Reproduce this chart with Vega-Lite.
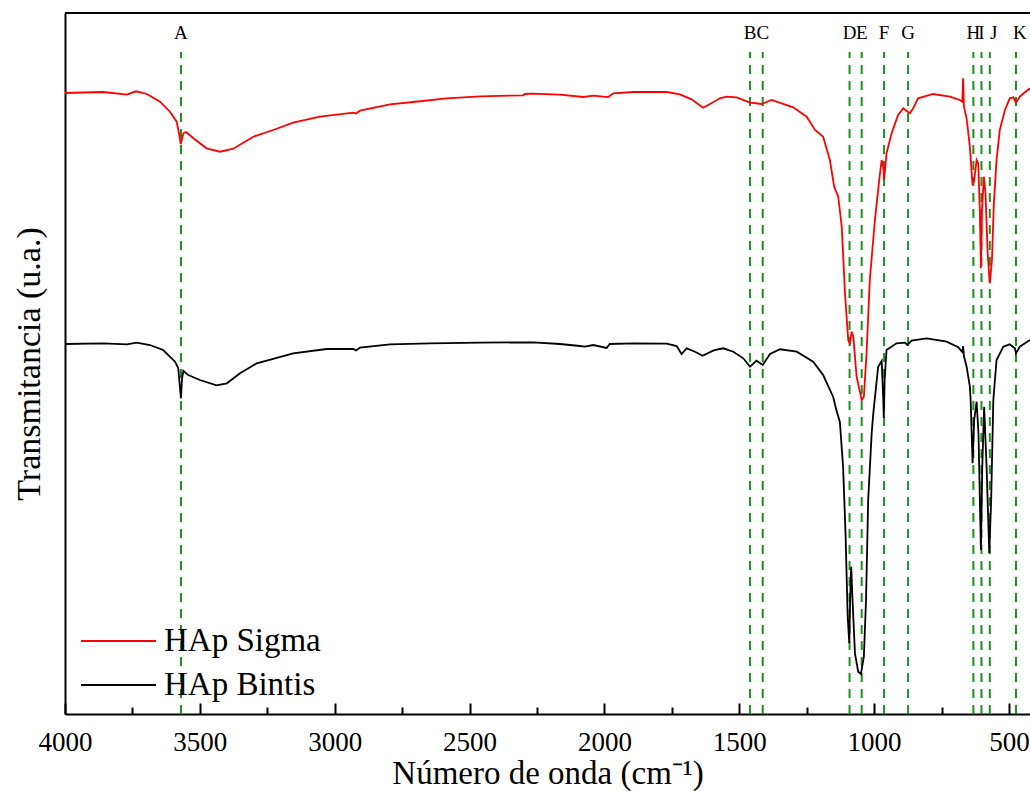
{
  "$schema": "https://vega.github.io/schema/vega-lite/v6.json",
  "width": 965,
  "height": 701,
  "autosize": {"type": "none"},
  "padding": {"left": 65, "top": 13, "right": 0, "bottom": 77},
  "background": "white",
  "config": {
    "font": "Liberation Serif",
    "view": {"stroke": null},
    "axis": {"labelFont": "Liberation Serif", "titleFont": "Liberation Serif"},
    "legend": {"labelFont": "Liberation Serif", "titleFont": "Liberation Serif"},
    "text": {"font": "Liberation Serif"}
  },
  "datasets": {
    "peaks": [
      {"wn": 3570, "label": "A"}, {"wn": 1460, "label": "B"}, {"wn": 1413, "label": "C"},
      {"wn": 1091, "label": "D"}, {"wn": 1046, "label": "E"}, {"wn": 963, "label": "F"},
      {"wn": 874, "label": "G"}, {"wn": 632, "label": "H"}, {"wn": 602, "label": "I"},
      {"wn": 571, "label": "J"}, {"wn": 474, "label": "K"}
    ],
    "spectra": [
      {"wn": 4000, "t": 621, "s": "HAp Sigma"}, {"wn": 3859, "t": 622, "s": "HAp Sigma"}, {"wn": 3770, "t": 619.3, "s": "HAp Sigma"},
      {"wn": 3737, "t": 622.7, "s": "HAp Sigma"}, {"wn": 3696, "t": 620, "s": "HAp Sigma"}, {"wn": 3648, "t": 612.3, "s": "HAp Sigma"},
      {"wn": 3611, "t": 602.3, "s": "HAp Sigma"}, {"wn": 3586, "t": 592.3, "s": "HAp Sigma"}, {"wn": 3576, "t": 579, "s": "HAp Sigma"},
      {"wn": 3571, "t": 570, "s": "HAp Sigma"}, {"wn": 3561, "t": 580.7, "s": "HAp Sigma"}, {"wn": 3551, "t": 582, "s": "HAp Sigma"},
      {"wn": 3524, "t": 575.7, "s": "HAp Sigma"}, {"wn": 3475, "t": 565.7, "s": "HAp Sigma"}, {"wn": 3425, "t": 562.3, "s": "HAp Sigma"},
      {"wn": 3376, "t": 565.3, "s": "HAp Sigma"}, {"wn": 3302, "t": 577.3, "s": "HAp Sigma"}, {"wn": 3228, "t": 584, "s": "HAp Sigma"},
      {"wn": 3154, "t": 591.3, "s": "HAp Sigma"}, {"wn": 3055, "t": 597.3, "s": "HAp Sigma"}, {"wn": 2931, "t": 601.3, "s": "HAp Sigma"},
      {"wn": 2921, "t": 600.5, "s": "HAp Sigma"}, {"wn": 2906, "t": 603.3, "s": "HAp Sigma"}, {"wn": 2795, "t": 609.7, "s": "HAp Sigma"},
      {"wn": 2709, "t": 612, "s": "HAp Sigma"}, {"wn": 2585, "t": 615.7, "s": "HAp Sigma"}, {"wn": 2461, "t": 617.7, "s": "HAp Sigma"},
      {"wn": 2301, "t": 618.7, "s": "HAp Sigma"}, {"wn": 2295, "t": 620, "s": "HAp Sigma"}, {"wn": 2270, "t": 620.3, "s": "HAp Sigma"},
      {"wn": 2165, "t": 619.3, "s": "HAp Sigma"}, {"wn": 2078, "t": 617, "s": "HAp Sigma"}, {"wn": 2041, "t": 618.3, "s": "HAp Sigma"},
      {"wn": 2004, "t": 617.3, "s": "HAp Sigma"}, {"wn": 1986, "t": 617, "s": "HAp Sigma"}, {"wn": 1967, "t": 620.7, "s": "HAp Sigma"},
      {"wn": 1893, "t": 622, "s": "HAp Sigma"}, {"wn": 1769, "t": 622, "s": "HAp Sigma"}, {"wn": 1720, "t": 619.7, "s": "HAp Sigma"},
      {"wn": 1677, "t": 614.7, "s": "HAp Sigma"}, {"wn": 1634, "t": 606.3, "s": "HAp Sigma"}, {"wn": 1597, "t": 611.7, "s": "HAp Sigma"},
      {"wn": 1572, "t": 615.7, "s": "HAp Sigma"}, {"wn": 1547, "t": 617.3, "s": "HAp Sigma"}, {"wn": 1510, "t": 616.7, "s": "HAp Sigma"},
      {"wn": 1460, "t": 611.3, "s": "HAp Sigma"}, {"wn": 1417, "t": 610, "s": "HAp Sigma"}, {"wn": 1380, "t": 614, "s": "HAp Sigma"},
      {"wn": 1300, "t": 606.7, "s": "HAp Sigma"}, {"wn": 1250, "t": 597.3, "s": "HAp Sigma"}, {"wn": 1219, "t": 584, "s": "HAp Sigma"},
      {"wn": 1189, "t": 577.3, "s": "HAp Sigma"}, {"wn": 1164, "t": 554, "s": "HAp Sigma"}, {"wn": 1148, "t": 527.3, "s": "HAp Sigma"},
      {"wn": 1133, "t": 517.3, "s": "HAp Sigma"}, {"wn": 1120, "t": 487.3, "s": "HAp Sigma"}, {"wn": 1108, "t": 420.7, "s": "HAp Sigma"},
      {"wn": 1096, "t": 374, "s": "HAp Sigma"}, {"wn": 1090, "t": 370.7, "s": "HAp Sigma"}, {"wn": 1083, "t": 382.3, "s": "HAp Sigma"},
      {"wn": 1077, "t": 377.3, "s": "HAp Sigma"}, {"wn": 1065, "t": 337.3, "s": "HAp Sigma"}, {"wn": 1046, "t": 314, "s": "HAp Sigma"},
      {"wn": 1038, "t": 317.3, "s": "HAp Sigma"}, {"wn": 1028, "t": 360.7, "s": "HAp Sigma"}, {"wn": 1016, "t": 434, "s": "HAp Sigma"},
      {"wn": 997, "t": 494, "s": "HAp Sigma"}, {"wn": 981, "t": 534, "s": "HAp Sigma"}, {"wn": 972, "t": 554, "s": "HAp Sigma"},
      {"wn": 966, "t": 547.3, "s": "HAp Sigma"}, {"wn": 963, "t": 534, "s": "HAp Sigma"}, {"wn": 954, "t": 560.7, "s": "HAp Sigma"},
      {"wn": 935, "t": 580.7, "s": "HAp Sigma"}, {"wn": 911, "t": 599, "s": "HAp Sigma"}, {"wn": 892, "t": 605.7, "s": "HAp Sigma"},
      {"wn": 880, "t": 603.3, "s": "HAp Sigma"}, {"wn": 867, "t": 600.7, "s": "HAp Sigma"}, {"wn": 855, "t": 605.7, "s": "HAp Sigma"},
      {"wn": 837, "t": 615.7, "s": "HAp Sigma"}, {"wn": 781, "t": 620, "s": "HAp Sigma"}, {"wn": 719, "t": 617.3, "s": "HAp Sigma"},
      {"wn": 682, "t": 614, "s": "HAp Sigma"}, {"wn": 673, "t": 612.3, "s": "HAp Sigma"}, {"wn": 670, "t": 635.7, "s": "HAp Sigma"},
      {"wn": 667, "t": 607.3, "s": "HAp Sigma"}, {"wn": 657, "t": 595.7, "s": "HAp Sigma"}, {"wn": 645, "t": 567.3, "s": "HAp Sigma"},
      {"wn": 635, "t": 529, "s": "HAp Sigma"}, {"wn": 629, "t": 534, "s": "HAp Sigma"}, {"wn": 620, "t": 554, "s": "HAp Sigma"},
      {"wn": 614, "t": 550.7, "s": "HAp Sigma"}, {"wn": 608, "t": 504, "s": "HAp Sigma"}, {"wn": 604, "t": 445.7, "s": "HAp Sigma"},
      {"wn": 600, "t": 504, "s": "HAp Sigma"}, {"wn": 593, "t": 537.3, "s": "HAp Sigma"}, {"wn": 587, "t": 520.7, "s": "HAp Sigma"},
      {"wn": 579, "t": 460.7, "s": "HAp Sigma"}, {"wn": 571, "t": 430.7, "s": "HAp Sigma"}, {"wn": 563, "t": 454, "s": "HAp Sigma"},
      {"wn": 556, "t": 510.7, "s": "HAp Sigma"}, {"wn": 546, "t": 554, "s": "HAp Sigma"}, {"wn": 534, "t": 584, "s": "HAp Sigma"},
      {"wn": 515, "t": 604, "s": "HAp Sigma"}, {"wn": 497, "t": 615.7, "s": "HAp Sigma"}, {"wn": 484, "t": 616.7, "s": "HAp Sigma"},
      {"wn": 474, "t": 611.3, "s": "HAp Sigma"}, {"wn": 460, "t": 617.3, "s": "HAp Sigma"}, {"wn": 441, "t": 621.7, "s": "HAp Sigma"},
      {"wn": 422, "t": 625.7, "s": "HAp Sigma"},
      {"wn": 4000, "t": 370, "s": "HAp Bintis"}, {"wn": 3858, "t": 370.7, "s": "HAp Bintis"}, {"wn": 3771, "t": 369.7, "s": "HAp Bintis"},
      {"wn": 3734, "t": 371.3, "s": "HAp Bintis"}, {"wn": 3685, "t": 369, "s": "HAp Bintis"}, {"wn": 3636, "t": 364, "s": "HAp Bintis"},
      {"wn": 3592, "t": 352.3, "s": "HAp Bintis"}, {"wn": 3580, "t": 345.7, "s": "HAp Bintis"}, {"wn": 3574, "t": 327.3, "s": "HAp Bintis"},
      {"wn": 3570, "t": 315.7, "s": "HAp Bintis"}, {"wn": 3566, "t": 335.7, "s": "HAp Bintis"}, {"wn": 3561, "t": 343.3, "s": "HAp Bintis"},
      {"wn": 3551, "t": 340.7, "s": "HAp Bintis"}, {"wn": 3543, "t": 339, "s": "HAp Bintis"}, {"wn": 3500, "t": 334, "s": "HAp Bintis"},
      {"wn": 3438, "t": 328.7, "s": "HAp Bintis"}, {"wn": 3400, "t": 330.7, "s": "HAp Bintis"}, {"wn": 3351, "t": 340.7, "s": "HAp Bintis"},
      {"wn": 3289, "t": 350.7, "s": "HAp Bintis"}, {"wn": 3154, "t": 360.7, "s": "HAp Bintis"}, {"wn": 3030, "t": 365, "s": "HAp Bintis"},
      {"wn": 2931, "t": 365, "s": "HAp Bintis"}, {"wn": 2921, "t": 363.5, "s": "HAp Bintis"}, {"wn": 2906, "t": 366.5, "s": "HAp Bintis"},
      {"wn": 2795, "t": 369.7, "s": "HAp Bintis"}, {"wn": 2647, "t": 370.7, "s": "HAp Bintis"}, {"wn": 2461, "t": 371.3, "s": "HAp Bintis"},
      {"wn": 2264, "t": 371.7, "s": "HAp Bintis"}, {"wn": 2165, "t": 370, "s": "HAp Bintis"}, {"wn": 2091, "t": 368, "s": "HAp Bintis"},
      {"wn": 2072, "t": 367.3, "s": "HAp Bintis"}, {"wn": 2041, "t": 369, "s": "HAp Bintis"}, {"wn": 1992, "t": 366, "s": "HAp Bintis"},
      {"wn": 1980, "t": 370, "s": "HAp Bintis"}, {"wn": 1893, "t": 370.7, "s": "HAp Bintis"}, {"wn": 1769, "t": 370.3, "s": "HAp Bintis"},
      {"wn": 1732, "t": 368, "s": "HAp Bintis"}, {"wn": 1714, "t": 360, "s": "HAp Bintis"}, {"wn": 1695, "t": 365.7, "s": "HAp Bintis"},
      {"wn": 1664, "t": 362.3, "s": "HAp Bintis"}, {"wn": 1636, "t": 358.3, "s": "HAp Bintis"}, {"wn": 1597, "t": 363.3, "s": "HAp Bintis"},
      {"wn": 1572, "t": 365, "s": "HAp Bintis"}, {"wn": 1559, "t": 365.7, "s": "HAp Bintis"}, {"wn": 1522, "t": 362.3, "s": "HAp Bintis"},
      {"wn": 1485, "t": 355.7, "s": "HAp Bintis"}, {"wn": 1460, "t": 347.3, "s": "HAp Bintis"}, {"wn": 1436, "t": 353.3, "s": "HAp Bintis"},
      {"wn": 1413, "t": 349, "s": "HAp Bintis"}, {"wn": 1386, "t": 360, "s": "HAp Bintis"}, {"wn": 1349, "t": 364.7, "s": "HAp Bintis"},
      {"wn": 1287, "t": 362.3, "s": "HAp Bintis"}, {"wn": 1226, "t": 352.3, "s": "HAp Bintis"}, {"wn": 1189, "t": 339, "s": "HAp Bintis"},
      {"wn": 1152, "t": 317.3, "s": "HAp Bintis"}, {"wn": 1140, "t": 304, "s": "HAp Bintis"}, {"wn": 1127, "t": 292, "s": "HAp Bintis"},
      {"wn": 1115, "t": 247.3, "s": "HAp Bintis"}, {"wn": 1106, "t": 180.7, "s": "HAp Bintis"}, {"wn": 1098, "t": 97.3, "s": "HAp Bintis"},
      {"wn": 1092, "t": 70.7, "s": "HAp Bintis"}, {"wn": 1089, "t": 114, "s": "HAp Bintis"}, {"wn": 1085, "t": 147.3, "s": "HAp Bintis"},
      {"wn": 1080, "t": 114, "s": "HAp Bintis"}, {"wn": 1071, "t": 60.7, "s": "HAp Bintis"}, {"wn": 1059, "t": 42.3, "s": "HAp Bintis"},
      {"wn": 1049, "t": 40, "s": "HAp Bintis"}, {"wn": 1038, "t": 57.3, "s": "HAp Bintis"}, {"wn": 1030, "t": 114, "s": "HAp Bintis"},
      {"wn": 1022, "t": 214, "s": "HAp Bintis"}, {"wn": 1009, "t": 280.7, "s": "HAp Bintis"}, {"wn": 1003, "t": 300.7, "s": "HAp Bintis"},
      {"wn": 985, "t": 347.3, "s": "HAp Bintis"}, {"wn": 972, "t": 353, "s": "HAp Bintis"}, {"wn": 966, "t": 314, "s": "HAp Bintis"},
      {"wn": 964, "t": 296, "s": "HAp Bintis"}, {"wn": 961, "t": 334, "s": "HAp Bintis"}, {"wn": 954, "t": 364, "s": "HAp Bintis"},
      {"wn": 917, "t": 370.7, "s": "HAp Bintis"}, {"wn": 886, "t": 371.3, "s": "HAp Bintis"}, {"wn": 877, "t": 369, "s": "HAp Bintis"},
      {"wn": 861, "t": 373.3, "s": "HAp Bintis"}, {"wn": 805, "t": 375.7, "s": "HAp Bintis"}, {"wn": 731, "t": 372.3, "s": "HAp Bintis"},
      {"wn": 688, "t": 366.7, "s": "HAp Bintis"}, {"wn": 673, "t": 362, "s": "HAp Bintis"}, {"wn": 670, "t": 368, "s": "HAp Bintis"},
      {"wn": 667, "t": 358, "s": "HAp Bintis"}, {"wn": 657, "t": 347.3, "s": "HAp Bintis"}, {"wn": 645, "t": 327.3, "s": "HAp Bintis"},
      {"wn": 642, "t": 314, "s": "HAp Bintis"}, {"wn": 635, "t": 250.7, "s": "HAp Bintis"}, {"wn": 629, "t": 294, "s": "HAp Bintis"},
      {"wn": 620, "t": 312.3, "s": "HAp Bintis"}, {"wn": 613, "t": 280.7, "s": "HAp Bintis"}, {"wn": 604, "t": 164, "s": "HAp Bintis"},
      {"wn": 599, "t": 247.3, "s": "HAp Bintis"}, {"wn": 592, "t": 307.3, "s": "HAp Bintis"}, {"wn": 583, "t": 247.3, "s": "HAp Bintis"},
      {"wn": 573, "t": 160.7, "s": "HAp Bintis"}, {"wn": 566, "t": 214, "s": "HAp Bintis"}, {"wn": 558, "t": 314, "s": "HAp Bintis"},
      {"wn": 546, "t": 354, "s": "HAp Bintis"}, {"wn": 521, "t": 367.3, "s": "HAp Bintis"}, {"wn": 497, "t": 369.7, "s": "HAp Bintis"},
      {"wn": 478, "t": 365.7, "s": "HAp Bintis"}, {"wn": 474, "t": 360.7, "s": "HAp Bintis"}, {"wn": 460, "t": 367.3, "s": "HAp Bintis"},
      {"wn": 422, "t": 374, "s": "HAp Bintis"}
    ]
  },
  "layer": [
    {
      "data": {"name": "peaks"},
      "mark": {"type": "rule", "color": "#1f8f1f", "strokeWidth": 2, "strokeDash": [9, 7]},
      "encoding": {
        "x": {"field": "wn", "type": "quantitative"},
        "y": {"datum": 0},
        "y2": {"datum": 662}
      }
    },
    {
      "data": {"name": "peaks"},
      "transform": [{"filter": "datum.label !== 'J' && datum.label !== 'K'"}],
      "mark": {"type": "text", "fontSize": 19, "baseline": "alphabetic", "font": "Liberation Serif", "color": "black"},
      "encoding": {
        "x": {"field": "wn", "type": "quantitative"},
        "y": {"datum": 675},
        "text": {"field": "label"}
      }
    },
    {
      "data": {"name": "peaks"},
      "transform": [{"filter": "datum.label === 'J' || datum.label === 'K'"}],
      "mark": {"type": "text", "fontSize": 19, "baseline": "alphabetic", "font": "Liberation Serif", "color": "black", "dx": 4},
      "encoding": {
        "x": {"field": "wn", "type": "quantitative"},
        "y": {"datum": 675},
        "text": {"field": "label"}
      }
    },
    {
      "data": {"name": "spectra"},
      "mark": {"type": "line", "strokeWidth": 1.8},
      "encoding": {
        "x": {
          "field": "wn",
          "type": "quantitative",
          "scale": {"domain": [4000, 422], "nice": false, "zero": false},
          "axis": {
            "title": "Número de onda (cm⁻¹)",
            "titleFont": "Liberation Serif",
            "titleFontSize": 33,
            "titleFontWeight": "normal",
            "titleColor": "black",
            "titlePadding": 2,
            "values": [4000, 3750, 3500, 3250, 3000, 2750, 2500, 2250, 2000, 1750, 1500, 1250, 1000, 750, 500],
            "format": "d",
            "labelExpr": "datum.value % 500 === 0 ? datum.label : ''",
            "labelFont": "Liberation Serif",
            "labelFontSize": 27,
            "labelColor": "black",
            "labelFlush": false,
            "labelPadding": 26,
            "tickSize": {"condition": {"test": "datum.value % 500 === 0", "value": -11}, "value": -7},
            "tickWidth": 2,
            "tickColor": "black",
            "domainWidth": 2,
            "domainColor": "black",
            "grid": false
          }
        },
        "y": {
          "field": "t",
          "type": "quantitative",
          "scale": {"domain": [0, 701], "nice": false, "zero": false},
          "axis": {
            "title": "Transmitancia (u.a.)",
            "titleFont": "Liberation Serif",
            "titleFontSize": 34,
            "titleFontWeight": "normal",
            "titleColor": "black",
            "titlePadding": 19,
            "labels": false,
            "ticks": false,
            "grid": false,
            "domainWidth": 2,
            "domainColor": "black"
          }
        },
        "color": {
          "field": "s",
          "type": "nominal",
          "sort": ["HAp Sigma", "HAp Bintis"],
          "scale": {"domain": ["HAp Sigma", "HAp Bintis"], "range": ["#ff0000", "#000000"]},
          "legend": {
            "orient": "none",
            "legendX": 15,
            "legendY": 606,
            "title": null,
            "symbolType": "stroke",
            "symbolSize": 5625,
            "symbolStrokeWidth": 2,
            "labelFontSize": 33,
            "labelFont": "Liberation Serif",
            "labelColor": "black",
            "labelOffset": 7,
            "clipHeight": 44,
            "rowPadding": 0
          }
        }
      }
    },
    {
      "data": {"values": [{}]},
      "mark": {"type": "rule", "color": "black", "strokeWidth": 2},
      "encoding": {"y": {"datum": 701}}
    }
  ]
}
